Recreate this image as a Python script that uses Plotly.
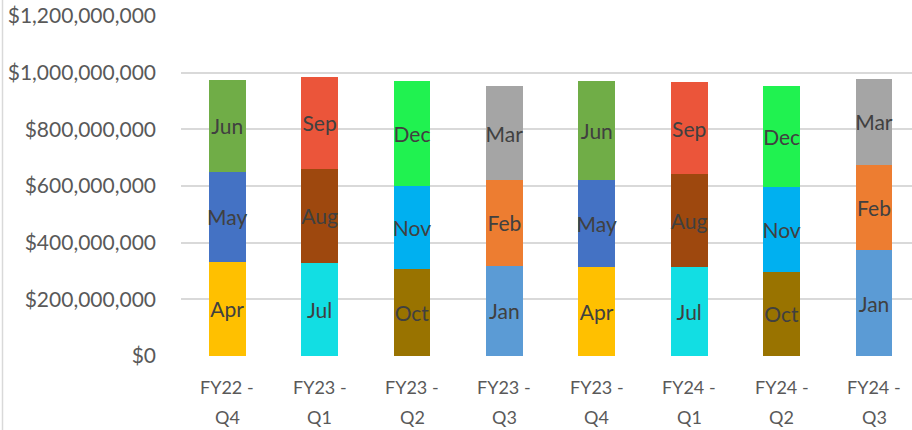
import plotly.graph_objects as go

quarters = ["FY22 - Q4", "FY23 - Q1", "FY23 - Q2", "FY23 - Q3",
            "FY23 - Q4", "FY24 - Q1", "FY24 - Q2", "FY24 - Q3"]
fy_labels = ["FY22 -", "FY23 -", "FY23 -", "FY23 -", "FY23 -", "FY24 -", "FY24 -", "FY24 -"]
q_labels = ["Q4", "Q1", "Q2", "Q3", "Q4", "Q1", "Q2", "Q3"]

month1 = ["Apr", "Jul", "Oct", "Jan", "Apr", "Jul", "Oct", "Jan"]
month2 = ["May", "Aug", "Nov", "Feb", "May", "Aug", "Nov", "Feb"]
month3 = ["Jun", "Sep", "Dec", "Mar", "Jun", "Sep", "Dec", "Mar"]

values1 = [332e6, 329e6, 308e6, 319e6, 313e6, 313e6, 297e6, 374e6]
values2 = [319e6, 331e6, 293e6, 303e6, 309e6, 329e6, 300e6, 300e6]
values3 = [322e6, 325e6, 371e6, 330e6, 350e6, 325e6, 355e6, 305e6]

month_colors = {
    "Apr": "#FFC000", "May": "#4472C4", "Jun": "#70AD47",
    "Jul": "#12DEE3", "Aug": "#9E480E", "Sep": "#EB553A",
    "Oct": "#997300", "Nov": "#00B0F0", "Dec": "#20F250",
    "Jan": "#5B9BD5", "Feb": "#ED7D31", "Mar": "#A5A5A5",
}

y_tickvals = [0, 200e6, 400e6, 600e6, 800e6, 1000e6, 1200e6]
y_ticktext = ["$0", "$200,000,000", "$400,000,000", "$600,000,000",
              "$800,000,000", "$1,000,000,000", "$1,200,000,000"]

FONT = "Lato"

fig = go.Figure()
for months, vals in [(month1, values1), (month2, values2), (month3, values3)]:
    fig.add_trace(go.Bar(
        x=quarters, y=vals, text=months,
        marker=dict(color=[month_colors[m] for m in months], line=dict(width=0)),
        textposition="inside", insidetextanchor="middle", textangle=0,
        constraintext="none",
        textfont=dict(family=FONT, size=21, color="#404040"),
        hoverinfo="skip", showlegend=False,
    ))

W, H = 912, 430
L, R, T, B = 181, 0, 16, 74
plot_w = W - L - R
plot_h = H - T - B

annotations = []
for q, fy, ql in zip(quarters, fy_labels, q_labels):
    annotations.append(dict(x=q, xref="x", y=0, yref="paper", text=fy,
                            showarrow=False, yanchor="middle", yshift=-31,
                            font=dict(family=FONT, size=18, color="#595959")))
    annotations.append(dict(x=q, xref="x", y=0, yref="paper", text=ql,
                            showarrow=False, yanchor="middle", yshift=-61,
                            font=dict(family=FONT, size=18, color="#595959")))

fig.update_layout(
    width=W, height=H,
    margin=dict(l=L, r=R, t=T, b=B, pad=0),
    barmode="stack", bargap=0.6,
    plot_bgcolor="white", paper_bgcolor="white",
    font=dict(family=FONT, color="#595959"),
    xaxis=dict(type="category", range=[-0.5, -0.5 + plot_w / 92.4],
               showticklabels=False, showgrid=False, zeroline=False,
               showline=False, ticks=""),
    yaxis=dict(range=[0, 1200e6], tickvals=y_tickvals, ticktext=y_ticktext,
               showgrid=True, gridcolor="#D9D9D9", gridwidth=1.5,
               zeroline=False, showline=False, ticks="",
               ticklabelstandoff=24,
               tickfont=dict(family=FONT, size=21, color="#595959")),
    annotations=annotations,
    shapes=[dict(type="line", xref="paper", yref="paper",
                 x0=(2.5 - L) / plot_w, x1=(2.5 - L) / plot_w,
                 y0=-B / plot_h, y1=1 + T / plot_h,
                 line=dict(color="#D9D9D9", width=1.5))],
)

fig.write_html("out.html", config={"displayModeBar": False},
               post_script="document.body.style.margin='0';document.body.style.overflow='hidden';")
